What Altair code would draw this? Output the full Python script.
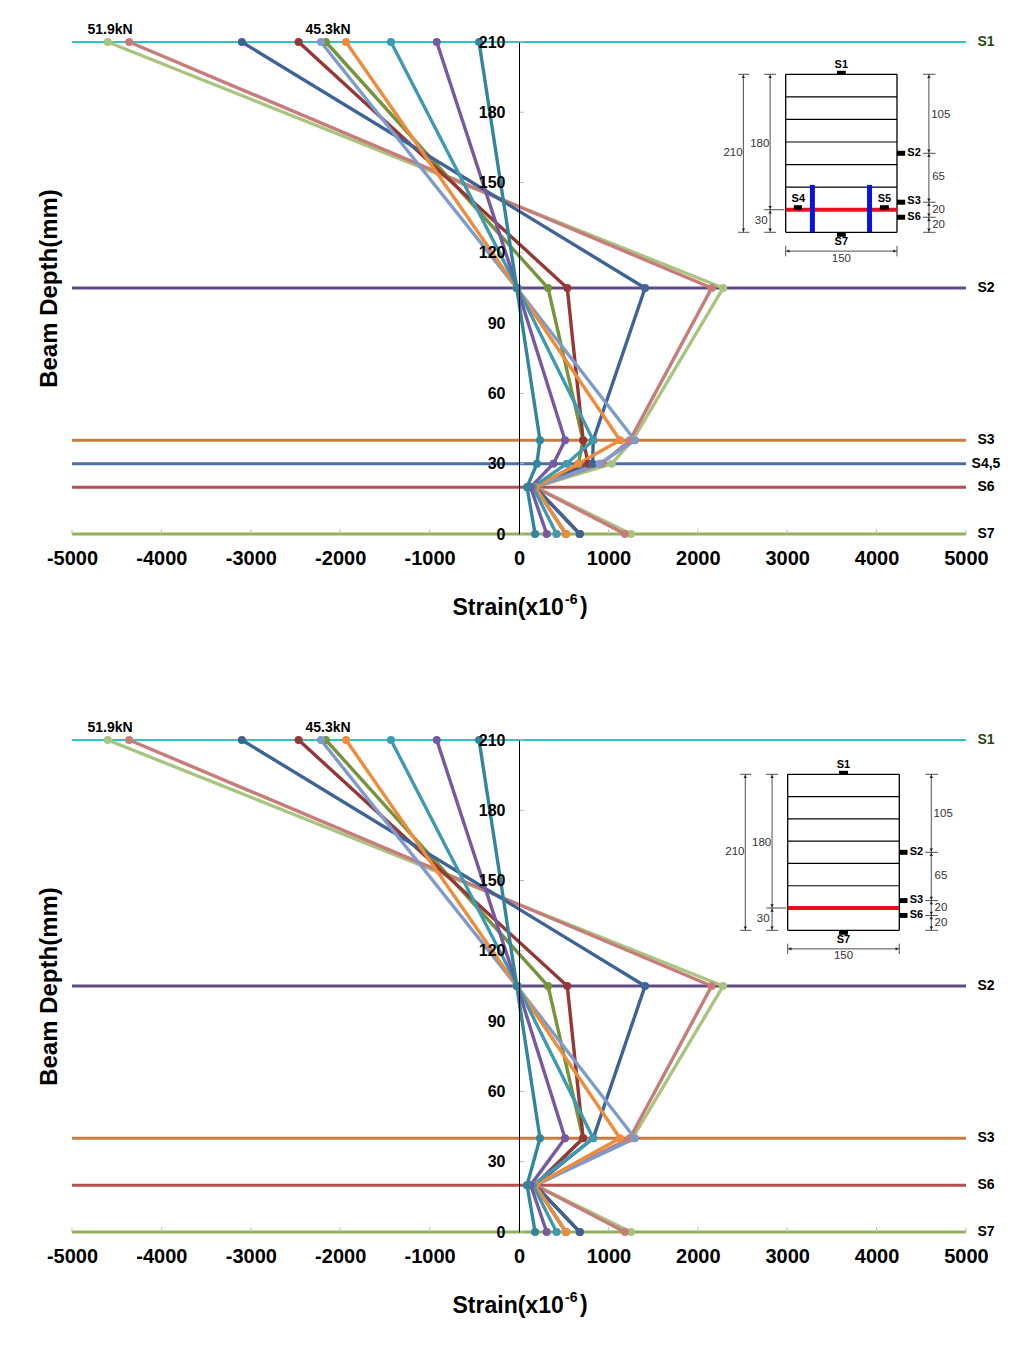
import altair as alt
import pandas as pd

# ---------- strain profile data ----------
depths = [210, 105, 40, 30, 20, 0]
series_names = ["s10", "s09", "s06", "s07", "s08", "s05", "s04", "s03", "s02", "s01"]
s10 = [-4600, 2283, 1270, 1037, 180, 1253]
s09 = [-4360, 2155, 1240, 925, 180, 1185]
s06 = [-2160, 325, 716, 665, 180, 525]
s07 = [-2465, 540, 718, 775, 180, 680]
s08 = [-3100, 1410, 830, 824, 180, 680]
s05 = [-2215, -25, 1297, 900, 180, 525]
s04 = [-1935, -25, 1130, 665, 180, 525]
s03 = [-1432, -15, 830, 533, 157, 420]
s02 = [-920, -20, 515, 385, 130, 310]
s01 = [-447, -25, 235, 200, 90, 180]
series_values = [s10, s09, s06, s07, s08, s05, s04, s03, s02, s01]
series_colors = ["#A9C47F", "#C77C7A", "#77933C", "#953735", "#3E6497",
                 "#7F9BCB", "#EC8C3C", "#3D9AB2", "#7659A0", "#31859C"]

gauge_depths = [210, 105, 40, 30, 20, 0]
gauge_labels = ["S1", "S2", "S3", "S4,5", "S6", "S7"]
gauge_colors = ["#2EC4C6", "#5F4C85", "#C87D3E", "#4A6FA8", "#B5504E", "#93B05A"]
gauge_text_colors = ["#1E4A10", "#000000", "#000000", "#000000", "#000000", "#000000"]
gauge_widths = [2, 3, 3, 3, 3, 3]

x_ticks = [-5000, -4000, -3000, -2000, -1000, 0, 1000, 2000, 3000, 4000, 5000]
y_ticks = [0, 30, 60, 90, 120, 150, 180, 210]
load_labels = ["51.9kN", "45.3kN"]
load_x = [-4575, -2136]

FONT = "Liberation Sans"
W, H = 894, 492


def profile_panel(drop_depths, beam_xrange, beam_yrange, with_stirrups):
    long = []
    for name, vals in zip(series_names, series_values):
        for d, v in zip(depths, vals):
            if d not in drop_depths:
                long.append({"series": name, "depth": d, "strain": v})
    df = pd.DataFrame(long)
    xs = alt.Scale(domain=[-5000, 5000], nice=False, zero=False)
    ys = alt.Scale(domain=[0, 210], nice=False, zero=False)
    col = alt.Color("series:N", legend=None,
                    scale=alt.Scale(domain=series_names, range=series_colors))

    gdf = pd.DataFrame({"depth": gauge_depths, "label": gauge_labels,
                        "c": gauge_colors, "w": gauge_widths, "tc": gauge_text_colors,
                        "xa": [-5000] * 6, "xb": [5000] * 6})
    gdf = gdf[~gdf.depth.isin(drop_depths)]

    base_axes = (
        alt.Chart(pd.DataFrame({"strain": [0], "depth": [0]}))
        .mark_point(opacity=0)
        .encode(
            x=alt.X("strain:Q", scale=xs, axis=alt.Axis(
                title="Strain(x10", values=x_ticks, grid=False, domain=False,
                tickSize=0, labelPadding=14, labelFont=FONT, labelFontSize=20,
                labelExpr="'' + datum.value",
                labelFontWeight="bold", labelColor="black", labelFlush=False,
                titleFont=FONT, titleFontSize=23, titleFontWeight="bold",
                titleColor="black", titleAlign="left", titleBaseline="alphabetic",
                titleX=380, titleY=80)),
            y=alt.Y("depth:Q", scale=ys, axis=alt.Axis(
                title="Beam Depth(mm)", values=y_ticks, grid=False, domain=True,
                domainColor="black", domainWidth=1, tickSize=0, labelPadding=14,
                offset=-447, labelFont=FONT, labelFontSize=16, labelFontWeight="bold",
                labelColor="black", labelFlush=False, titleFont=FONT, titleFontSize=24,
                titleFontWeight="bold", titleColor="black", titleX=-458, titleY=246,
                zindex=1)),
        )
    )
    gauge_lines = alt.Chart(gdf).mark_rule().encode(
        x=alt.X("xa:Q", scale=xs), x2="xb:Q", y=alt.Y("depth:Q", scale=ys),
        color=alt.Color("c:N", scale=None), strokeWidth=alt.StrokeWidth("w:Q", scale=None))
    gauge_text = alt.Chart(gdf).mark_text(
        font=FONT, fontSize=14, fontWeight="bold", dx=20, align="center", baseline="middle"
    ).encode(x=alt.X("xb:Q", scale=xs), y=alt.Y("depth:Q", scale=ys), text="label:N",
             color=alt.Color("tc:N", scale=None))

    tick_x = alt.Chart(pd.DataFrame({"v": x_ticks, "a": [0] * 11, "b": [2] * 11})).mark_rule(
        color="#BBBBBB", strokeWidth=1
    ).encode(x=alt.X("v:Q", scale=xs), y=alt.Y("a:Q", scale=ys), y2="b:Q")
    tick_y = alt.Chart(pd.DataFrame({"v": y_ticks, "a": [0] * 8, "b": [55] * 8})).mark_rule(
        color="#BBBBBB", strokeWidth=1
    ).encode(y=alt.Y("v:Q", scale=ys), x=alt.X("a:Q", scale=xs), x2="b:Q")

    lines = alt.Chart(df).mark_line(strokeWidth=3.4).encode(
        x=alt.X("strain:Q", scale=xs), y=alt.Y("depth:Q", scale=ys),
        color=col, order=alt.Order("depth:Q"))
    pts = alt.Chart(df).mark_circle(size=65, opacity=1).encode(
        x=alt.X("strain:Q", scale=xs), y=alt.Y("depth:Q", scale=ys), color=col)
    load_text = alt.Chart(pd.DataFrame({"t": load_labels, "v": load_x, "d": [210, 210]})).mark_text(
        font=FONT, fontSize=14, fontWeight="bold", color="black", dy=-12, align="center"
    ).encode(x=alt.X("v:Q", scale=xs), y=alt.Y("d:Q", scale=ys), text="t:N")

    sup = alt.Chart(pd.DataFrame({"t": ["-6"]})).mark_text(
        font=FONT, fontSize=14, fontWeight="bold", color="black", align="left", baseline="alphabetic"
    ).encode(x=alt.value(493), y=alt.value(562), text="t:N")
    close = alt.Chart(pd.DataFrame({"t": [")"]})).mark_text(
        font=FONT, fontSize=23, fontWeight="bold", color="black", align="left", baseline="alphabetic"
    ).encode(x=alt.value(508), y=alt.value(572), text="t:N")

    main = alt.layer(base_axes, gauge_lines, tick_x, tick_y, gauge_text, lines, pts, load_text, sup, close)
    beam = beam_inset(beam_xrange, beam_yrange, with_stirrups)
    return alt.layer(main, beam).resolve_scale(x="independent", y="independent").properties(width=W, height=H)


def beam_inset(xr, yr, with_stirrups):
    bx = alt.Scale(domain=[0, 150], range=xr, nice=False, zero=False)
    by = alt.Scale(domain=[0, 210], range=yr, nice=False, zero=False)
    # section geometry in mm: x1, y1, x2, y2, colour, stroke width
    seg = [(0, 0, 150, 0, "#000", 1.3), (0, 210, 150, 210, "#000", 1.3),
           (0, 0, 0, 210, "#000", 1.3), (150, 0, 150, 210, "#000", 1.3)]
    seg += [(0, d, 150, d, "#000", 1.2) for d in [60, 90, 120, 150, 180]]
    seg += [(0, 30, 150, 30, "#E8101A", 4)]
    seg += [(69, 212, 81, 212, "#000", 4), (69, -3, 81, -3, "#000", 4.5)]
    seg += [(150, d, 161, d, "#000", 5) for d in [105, 40, 20]]
    if with_stirrups:
        seg += [(36, 0, 36, 63, "#0A14D8", 5), (113, 0, 113, 63, "#0A14D8", 5),
                (11, 33, 22, 33, "#000", 4.5), (127, 33, 139, 33, "#000", 4.5)]
    dim = "#222222"
    seg += [(-57, 0, -57, 210, dim, .8), (-64, 0, -49, 0, dim, .8), (-64, 210, -49, 210, dim, .8)]
    seg += [(-21, 0, -21, 210, dim, .8), (-29, 0, -13, 0, dim, .8), (-29, 210, -13, 210, dim, .8),
            (-29, 30, -2, 30, dim, .8)]
    seg += [(193, 0, 193, 210, dim, .8)] + [(185, d, 202, d, dim, .8) for d in [210, 105, 40, 20, 0]]
    seg += [(0, -25, 150, -25, dim, .8), (0, -18, 0, -32, dim, .8), (150, -18, 150, -32, dim, .8)]
    sdf = pd.DataFrame(seg, columns=["x1", "y1", "x2", "y2", "c", "w"])
    rules = alt.Chart(sdf).mark_rule().encode(
        x=alt.X("x1:Q", scale=bx, axis=None), x2="x2:Q",
        y=alt.Y("y1:Q", scale=by, axis=None), y2="y2:Q",
        color=alt.Color("c:N", scale=None), strokeWidth=alt.StrokeWidth("w:Q", scale=None))

    # arrow heads at the ends of the dimension lines
    arrows = [(-57, 207, "triangle-up"), (-57, 3, "triangle-down"),
              (-21, 207, "triangle-up"), (-21, 33, "triangle-down"), (-21, 27, "triangle-up"), (-21, 3, "triangle-down"),
              (193, 207, "triangle-up"), (193, 108, "triangle-down"), (193, 102, "triangle-up"),
              (193, 43, "triangle-down"), (193, 37, "triangle-up"), (193, 23, "triangle-down"),
              (193, 17, "triangle-up"), (193, 3, "triangle-down"),
              (3, -25, "triangle-left"), (147, -25, "triangle-right")]
    adf = pd.DataFrame(arrows, columns=["x", "y", "s"])
    heads = alt.Chart(adf).mark_point(filled=True, size=12, opacity=1, color=dim).encode(
        x=alt.X("x:Q", scale=bx, axis=None), y=alt.Y("y:Q", scale=by, axis=None),
        shape=alt.Shape("s:N", scale=None))

    bold = [(75, 223, "S1"), (75, -13, "S7"), (173, 105, "S2"), (173, 41, "S3"), (173, 20, "S6")]
    if with_stirrups:
        bold += [(17, 44, "S4"), (133, 44, "S5")]
    bdf = pd.DataFrame(bold, columns=["x", "y", "t"])
    btext = alt.Chart(bdf).mark_text(font=FONT, fontSize=11, fontWeight="bold", color="black",
                                     baseline="middle").encode(
        x=alt.X("x:Q", scale=bx, axis=None), y=alt.Y("y:Q", scale=by, axis=None), text="t:N")
    dims = [(-71, 105, "210"), (-35, 118, "180"), (-33, 15, "30"), (209, 156, "105"),
            (206, 73, "65"), (206, 30, "20"), (206, 10, "20"), (75, -35, "150")]
    ddf = pd.DataFrame(dims, columns=["x", "y", "t"])
    dtext = alt.Chart(ddf).mark_text(font=FONT, fontSize=11.5, color="#333333",
                                     baseline="middle").encode(
        x=alt.X("x:Q", scale=bx, axis=None), y=alt.Y("y:Q", scale=by, axis=None), text="t:N")
    return alt.layer(rules, heads, btext, dtext)


top = profile_panel([], [713.7, 825.0], [190.3, 32.3], True)
bottom = profile_panel([30], [715.7, 827.3], [190.3, 34.3], False)

chart = (
    alt.vconcat(top, bottom, spacing=206, bounds="flush")
    .properties(background="white", padding={"left": 29, "top": 15, "right": 5, "bottom": 5})
    .configure_view(stroke=None)
    .configure_axis(grid=False)
)
chart.save("out.html", embed_options={"renderer": "svg", "actions": False})
